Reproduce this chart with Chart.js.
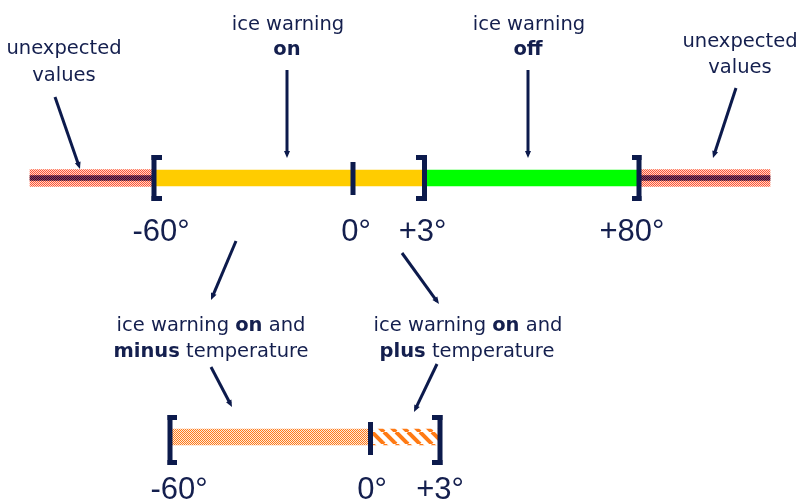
<!DOCTYPE html>
<html lang="en">
<head>
  <meta charset="UTF-8">
  <title>Ice warning ranges</title>
  <script src="https://cdn.jsdelivr.net/npm/chart.js"></script>
  <style>
    html, body { margin: 0; padding: 0; background: #ffffff; }
    #wrap { width: 798px; height: 502px; }
  </style>
</head>
<body>
<div id="wrap">
  <canvas id="iceChart" width="798" height="502"></canvas>
</div>

<script>
// rows of the diagram
const rows = ['full range', 'detail'];

// full range (top row), in °C
const unexpectedLow = [-100, -60];
const iceWarningOn = [-60, 3];
const iceWarningOff = [3, 80];
const unexpectedHigh = [80, 110];
const tickValues = [-60, 0, 3, 80];
const tickLabels = ['-60°', '0°', '+3°', '+80°'];

// detail of the "ice warning on" range (bottom row)
const onMinus = [-60, 0];
const onPlus = [0, 3];
const detailTickValues = [-60, 0, 3];
const detailTickLabels = ['-60°', '0°', '+3°'];

const navy = '#0c1a4c';
const textColor = '#141f4e';

// the diagram is not to scale, so the x axes map values piecewise
class PiecewiseScale extends Chart.LinearScale {
  static id = 'piecewise';
  static defaults = Chart.LinearScale.defaults;

  getPixelForValue(value) {
    const stops = this.options.stops;
    let i = 1;
    while (i < stops.length - 1 && value > stops[i][0]) i++;
    const [v0, f0] = stops[i - 1];
    const [v1, f1] = stops[i];
    const f = f0 + (value - v0) / (v1 - v0) * (f1 - f0);
    return this.left + f * (this.right - this.left);
  }

  getValueForPixel(pixel) {
    const stops = this.options.stops;
    const f = (pixel - this.left) / (this.right - this.left);
    let i = 1;
    while (i < stops.length - 1 && f > stops[i][1]) i++;
    const [v0, f0] = stops[i - 1];
    const [v1, f1] = stops[i];
    return v0 + (f - f0) / (f1 - f0) * (v1 - v0);
  }
}
Chart.register(PiecewiseScale);

// fill patterns
function checkPattern(c1, c2) {
  const tile = document.createElement('canvas');
  tile.width = 2; tile.height = 2;
  const t = tile.getContext('2d');
  t.fillStyle = c2; t.fillRect(0, 0, 2, 2);
  t.fillStyle = c1; t.fillRect(0, 0, 1, 1); t.fillRect(1, 1, 1, 1);
  return t.createPattern(tile, 'repeat');
}

function stripePattern(color) {
  const s = 12;
  const tile = document.createElement('canvas');
  tile.width = s; tile.height = s;
  const t = tile.getContext('2d');
  t.fillStyle = '#ffffff'; t.fillRect(0, 0, s, s);
  t.strokeStyle = color; t.lineWidth = 4;
  for (let k = -1; k <= 1; k++) {
    t.beginPath();
    t.moveTo(k * s, 0);
    t.lineTo(k * s + s, s);
    t.stroke();
  }
  return t.createPattern(tile, 'repeat');
}

const redCheck = checkPattern('#ff5533', '#ffd6cc');
const darkCheck = checkPattern('#0e1850', '#b8343a');
const orangeCheck = checkPattern('#ff7a1a', '#ffeadb');
const orangeStripes = stripePattern('#ff7a14');

function drawBracket(ctx, x, yTop, yBot, dir, serif) {
  ctx.fillRect(x - 2.5, yTop, 5, yBot - yTop);
  const sx = dir > 0 ? x - 2.5 : x - serif;
  ctx.fillRect(sx, yTop, serif + 2.5, 5);
  ctx.fillRect(sx, yBot - 5, serif + 2.5, 5);
}

function drawArrow(ctx, x0, y0, x1, y1) {
  const a = Math.atan2(y1 - y0, x1 - x0);
  ctx.beginPath();
  ctx.moveTo(x0, y0);
  ctx.lineTo(x1 - 4 * Math.cos(a), y1 - 4 * Math.sin(a));
  ctx.stroke();
  ctx.beginPath();
  ctx.moveTo(x1, y1);
  ctx.lineTo(x1 - 7 * Math.cos(a) + 3 * Math.sin(a), y1 - 7 * Math.sin(a) - 3 * Math.cos(a));
  ctx.lineTo(x1 - 7 * Math.cos(a) - 3 * Math.sin(a), y1 - 7 * Math.sin(a) + 3 * Math.cos(a));
  ctx.closePath();
  ctx.fill();
}

// one centred line made of regular and bold runs
function drawRuns(ctx, runs, cx, baseline) {
  const size = '19.5px "DejaVu Sans"';
  let total = 0;
  runs.forEach(r => {
    ctx.font = (r[1] ? 'bold ' : '') + size;
    total += ctx.measureText(r[0]).width;
  });
  let x = cx - total / 2;
  runs.forEach(r => {
    ctx.font = (r[1] ? 'bold ' : '') + size;
    ctx.fillText(r[0], x, baseline);
    x += ctx.measureText(r[0]).width;
  });
}

const annotations = {
  id: 'annotations',
  afterDatasetsDraw(chart) {
    const ctx = chart.ctx;
    const x = chart.scales.x;
    const x2 = chart.scales.x2;
    const yTop = chart.scales.y.getPixelForValue(0);
    const yBot = chart.scales.y.getPixelForValue(1);
    ctx.save();
    ctx.fillStyle = navy;

    // brackets and zero tick, top row
    drawBracket(ctx, x.getPixelForValue(tickValues[0]), yTop - 23, yTop + 23, 1, 8);
    drawBracket(ctx, x.getPixelForValue(tickValues[2]), yTop - 23, yTop + 23, -1, 8.5);
    drawBracket(ctx, x.getPixelForValue(tickValues[3]), yTop - 23, yTop + 23, -1, 7);
    ctx.fillRect(x.getPixelForValue(tickValues[1]) - 2.5, yTop - 16, 5, 33);

    // brackets and zero tick, bottom row
    drawBracket(ctx, x2.getPixelForValue(detailTickValues[0]), yBot - 22, yBot + 28, 1, 7);
    drawBracket(ctx, x2.getPixelForValue(detailTickValues[2]), yBot - 22, yBot + 28, -1, 8);
    ctx.fillRect(x2.getPixelForValue(detailTickValues[1]) - 2.5, yBot - 15, 5, 33);

    // value labels
    ctx.fillStyle = textColor;
    ctx.textAlign = 'center';
    ctx.textBaseline = 'alphabetic';
    ctx.font = '31px "Liberation Sans"';
    const topShift = [7, 3, -2, -7];
    tickValues.forEach((v, i) => {
      ctx.fillText(tickLabels[i], x.getPixelForValue(v) + topShift[i], yTop + 63);
    });
    const botShift = [9, 1.5, 0];
    detailTickValues.forEach((v, i) => {
      ctx.fillText(detailTickLabels[i], x2.getPixelForValue(v) + botShift[i], yBot + 62);
    });

    // captions
    ctx.textAlign = 'left';
    drawRuns(ctx, [['unexpected', false]], 64, 54);
    drawRuns(ctx, [['values', false]], 64, 81);
    drawRuns(ctx, [['ice warning', false]], 288, 30);
    drawRuns(ctx, [['on', true]], 287, 55);
    drawRuns(ctx, [['ice warning', false]], 529, 30);
    drawRuns(ctx, [['off', true]], 528, 55);
    drawRuns(ctx, [['unexpected', false]], 740, 47);
    drawRuns(ctx, [['values', false]], 740, 73);
    drawRuns(ctx, [['ice warning ', false], ['on', true], [' and', false]], 211, 331);
    drawRuns(ctx, [['minus', true], [' temperature', false]], 211, 357);
    drawRuns(ctx, [['ice warning ', false], ['on', true], [' and', false]], 468, 331);
    drawRuns(ctx, [['plus', true], [' temperature', false]], 467, 357);

    // arrows
    ctx.strokeStyle = navy;
    ctx.fillStyle = navy;
    ctx.lineWidth = 3;
    [
      [55, 97, 80, 169],
      [287, 70, 287, 158],
      [528, 70, 528, 158],
      [736, 88, 713, 158],
      [236, 241, 211, 300],
      [402, 253, 439, 304],
      [211, 367, 232, 407],
      [437, 364, 414, 412]
    ].forEach(a => drawArrow(ctx, a[0], a[1], a[2], a[3]));

    ctx.restore();
  }
};

const barDefaults = { grouped: false, clip: false, borderWidth: 0, borderSkipped: false };

// first dataset is drawn on top
new Chart(document.getElementById('iceChart'), {
  type: 'bar',
  data: {
    labels: rows,
    datasets: [
      { ...barDefaults, label: 'unexpected values (line)', xAxisID: 'x', barThickness: 5,
        data: [{ y: rows[0], x: unexpectedLow }, { y: rows[0], x: unexpectedHigh }],
        backgroundColor: darkCheck },
      { ...barDefaults, label: 'unexpected values', xAxisID: 'x', barThickness: 17,
        data: [{ y: rows[0], x: unexpectedLow }, { y: rows[0], x: unexpectedHigh }],
        backgroundColor: redCheck },
      { ...barDefaults, label: 'ice warning on', xAxisID: 'x', barThickness: 16,
        data: [{ y: rows[0], x: iceWarningOn }], backgroundColor: '#ffcc00' },
      { ...barDefaults, label: 'ice warning off', xAxisID: 'x', barThickness: 16,
        data: [{ y: rows[0], x: iceWarningOff }], backgroundColor: '#00ff00' },
      { ...barDefaults, label: 'ice warning on, minus temperature', xAxisID: 'x2', barThickness: 16,
        data: [{ y: rows[1], x: onMinus }], backgroundColor: orangeCheck },
      { ...barDefaults, label: 'ice warning on, plus temperature', xAxisID: 'x2', barThickness: 16,
        data: [{ y: rows[1], x: onPlus }], backgroundColor: orangeStripes }
    ]
  },
  options: {
    indexAxis: 'y',
    responsive: false,
    animation: false,
    layout: { padding: { top: 178, bottom: 65, left: 0, right: 0 } },
    scales: {
      x: {
        type: 'piecewise', display: false, min: -100, max: 110,
        stops: [[-100, 30 / 798], [-60, 154 / 798], [0, 353 / 798], [3, 424.5 / 798], [80, 639 / 798], [110, 770 / 798]]
      },
      x2: {
        type: 'piecewise', display: false, min: -60, max: 3,
        stops: [[-60, 170 / 798], [0, 370.5 / 798], [3, 440 / 798]]
      },
      y: { type: 'category', display: false, offset: false }
    },
    plugins: {
      legend: { display: false },
      tooltip: { enabled: false }
    }
  },
  plugins: [annotations]
});
</script>
</body>
</html>
